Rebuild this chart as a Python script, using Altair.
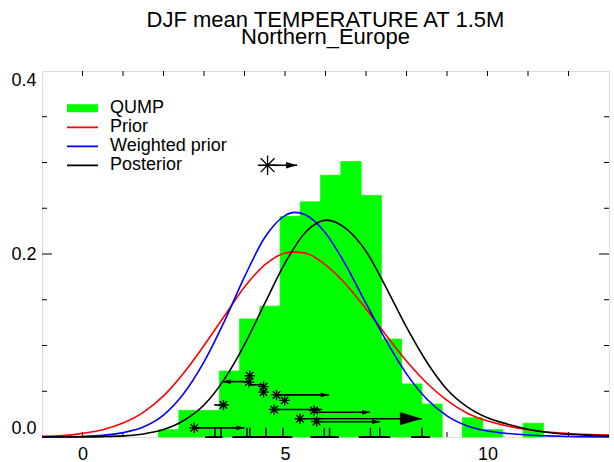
import altair as alt
import pandas as pd

FONT = "Liberation Sans"
W, H = 567, 366

# ---------------- data ----------------
# QUMP histogram (bin edges and densities)
bin_left = [1.88, 2.38, 2.88, 3.38, 3.88, 4.38, 4.88, 5.38, 5.88, 6.38, 6.88, 7.38, 7.88, 8.38, 9.38, 9.88, 10.88]
bin_right = [2.38, 2.88, 3.38, 3.88, 4.38, 4.88, 5.38, 5.88, 6.38, 6.88, 7.38, 7.88, 8.38, 8.88, 9.88, 10.38, 11.38]
bin_height = [0.008, 0.029, 0.029, 0.072, 0.129, 0.143, 0.241, 0.257, 0.286, 0.301, 0.264, 0.107, 0.058, 0.036, 0.021, 0.008, 0.015]

# Prior
prior_x = [-1, -0.5, 0, 0.5, 1, 1.5, 2, 2.5, 3, 3.5, 4, 4.5, 5, 5.2, 5.5, 6, 6.5, 7, 7.5, 8, 8.5, 9, 9.5, 10, 10.5, 11, 11.5, 12, 12.5, 13]
prior_y = [0.0007, 0.0015, 0.004, 0.008, 0.0153, 0.027, 0.045, 0.070, 0.100, 0.132, 0.164, 0.188, 0.201, 0.202, 0.201, 0.188,
           0.167, 0.140, 0.111, 0.083, 0.059, 0.040, 0.026, 0.0175, 0.012, 0.008, 0.0055, 0.0038, 0.0027, 0.002]
# Weighted prior
wprior_x = [-1, -0.5, 0, 0.5, 1, 1.5, 2, 2.5, 3, 3.5, 4, 4.5, 5, 5.24, 5.5, 6, 6.5, 7, 7.5, 8, 8.5, 9, 9.5, 10, 10.5, 11, 11.5, 12, 13]
wprior_y = [0.0, 0.0002, 0.0006, 0.0018, 0.0048, 0.011, 0.024, 0.0475, 0.082, 0.126, 0.175, 0.218, 0.242, 0.2455, 0.243, 0.223,
            0.188, 0.146, 0.105, 0.069, 0.0415, 0.023, 0.012, 0.0065, 0.0038, 0.0022, 0.0012, 0.0006, 0.0001]
# Posterior
post_x = [-1, 0, 0.5, 1, 1.5, 2, 2.5, 3, 3.5, 4, 4.5, 5, 5.5, 6.03, 6.5, 7, 7.5, 8, 8.5, 9, 9.5, 10, 10.5, 11, 11.5, 12, 12.5, 13]
post_y = [0.0, 0.0001, 0.0004, 0.0012, 0.0033, 0.0081, 0.018, 0.035, 0.063, 0.101, 0.146, 0.190, 0.2235, 0.237, 0.228, 0.203,
          0.163, 0.120, 0.082, 0.052, 0.033, 0.021, 0.014, 0.0085, 0.005, 0.003, 0.002, 0.001]

series_names = ["QUMP", "Prior", "Weighted prior", "Posterior"]
series_colors = ["#00ff00", "#ff0000", "#0000ff", "#000000"]

# observation stars
star_x = [2.76, 3.48, 4.13, 4.11, 4.47, 4.47, 4.79, 4.99, 4.73, 5.37, 5.72, 5.78]
star_y = [0.010, 0.035, 0.067, 0.060, 0.055, 0.049, 0.046, 0.040, 0.030, 0.020, 0.029, 0.017]
big_star_x = [4.57]
big_star_y = [0.297]

# arrows (start, end, level)
arrow_x0 = [2.76, 4.79, 4.73, 5.72, 5.78, 5.37, 4.11, 3.48, 4.12, 4.57]
arrow_x1 = [4.00, 6.08, 5.92, 7.10, 7.35, 8.38, 3.46, 3.25, 4.47, 5.30]
arrow_y = [0.010, 0.046, 0.030, 0.027, 0.0167, 0.020, 0.0605, 0.035, 0.057, 0.297]
head_small_x = [4.00, 6.08, 5.92, 7.10, 7.35]
head_small_y = [0.010, 0.046, 0.030, 0.027, 0.0167]
head_big_x = [8.38]
head_big_y = [0.020]
head_left_x = [3.46]
head_left_y = [0.0605]
head_top_x = [5.30]
head_top_y = [0.297]

# rug ticks and bottom segments
rug_x = [3.27, 3.42, 4.06, 4.13, 4.53, 4.95, 5.97, 6.10, 7.11, 7.34, 8.38]
rug_top = [0.010] * len(rug_x)
seg_x0 = [3.03, 3.70, 5.63, 6.82, 8.11]
seg_x1 = [3.46, 5.18, 6.33, 7.60, 8.58]

# axis ticks
x_ticks = [0, 1, 2, 3, 4, 5, 6, 7, 8, 9, 10, 11, 12]
y_minor = [0.05, 0.10, 0.15, 0.25, 0.30, 0.35]
y_major = [0.2]

# ---------------- chart ----------------
xs = alt.Scale(domain=[-1, 13], nice=False, zero=False)
ys = alt.Scale(domain=[0, 0.4], nice=False, zero=False)
xaxis = alt.Axis(values=[0, 5, 10], format="d", title=None, ticks=False, domain=False, grid=False,
                 labelFontSize=18, labelFont=FONT, labelColor="black", labelPadding=8)
yaxis = alt.Axis(values=[0, 0.2, 0.4], format=".1f", title=None, ticks=False, domain=False, grid=False,
                 labelFontSize=18, labelFont=FONT, labelColor="black", labelPadding=6, labelFlush=True,
                 labelFlushOffset=0)


def X(f):
    return alt.X(f, type="quantitative", scale=xs, axis=xaxis)


def Y(f):
    return alt.Y(f, type="quantitative", scale=ys, axis=yaxis)


xt = pd.DataFrame({"t": x_ticks})
ymin = pd.DataFrame({"t": y_minor})
ymaj = pd.DataFrame({"t": y_major})

tick_bottom = alt.Chart(xt).mark_rule(color="black", strokeWidth=1).encode(x=X("t"), y=alt.value(H), y2=alt.value(H - 5))
tick_top = alt.Chart(xt).mark_rule(color="black", strokeWidth=1).encode(x=X("t"), y=alt.value(0), y2=alt.value(5))
tick_l_min = alt.Chart(ymin).mark_rule(color="black", strokeWidth=1).encode(y=Y("t"), x=alt.value(0), x2=alt.value(5))
tick_r_min = alt.Chart(ymin).mark_rule(color="black", strokeWidth=1).encode(y=Y("t"), x=alt.value(W), x2=alt.value(W - 5))
tick_l_maj = alt.Chart(ymaj).mark_rule(color="black", strokeWidth=1).encode(y=Y("t"), x=alt.value(0), x2=alt.value(10))
tick_r_maj = alt.Chart(ymaj).mark_rule(color="black", strokeWidth=1).encode(y=Y("t"), x=alt.value(W), x2=alt.value(W - 10))

hist = alt.Chart(pd.DataFrame({"lo": bin_left, "hi": bin_right, "h": bin_height})).mark_rect(
    color="#00ff00", stroke="#00ff00", strokeWidth=0.8).encode(x=X("lo"), x2="hi", y=Y("h"), y2=alt.datum(0))

curves = pd.concat([
    pd.DataFrame({"x": prior_x, "y": prior_y, "series": "Prior"}),
    pd.DataFrame({"x": wprior_x, "y": wprior_y, "series": "Weighted prior"}),
    pd.DataFrame({"x": post_x, "y": post_y, "series": "Posterior"}),
])

legend = alt.Legend(title=None, orient="none", legendX=21, legendY=28, symbolType="stroke", symbolSize=961,
                    labelFontSize=18, labelFont=FONT, labelColor="black", labelOffset=8, clipHeight=18.7,
                    rowPadding=0, padding=0, labelLimit=400)

lines = alt.Chart(curves).mark_line(interpolate="monotone").encode(
    x=X("x"), y=Y("y"),
    color=alt.Color("series:N", scale=alt.Scale(domain=series_names, range=series_colors), legend=legend),
    strokeWidth=alt.StrokeWidth("series:N", scale=alt.Scale(type="ordinal", domain=series_names, range=[8, 1.6, 1.6, 1.6]),
                                legend=legend),
)

STAR = "M-1,0L1,0M0,-1L0,1M-0.71,-0.71L0.71,0.71M-0.71,0.71L0.71,-0.71"
HEAD_R = "M0,0L-2,-0.6L-2,0.6Z"
HEAD_L = "M0,0L2,-0.6L2,0.6Z"

stars = alt.Chart(pd.DataFrame({"x": star_x, "y": star_y})).mark_point(
    shape=STAR, size=110, filled=False, stroke="black", strokeWidth=1.4, opacity=1).encode(x=X("x"), y=Y("y"))
big_star = alt.Chart(pd.DataFrame({"x": big_star_x, "y": big_star_y})).mark_point(
    shape=STAR, size=380, filled=False, stroke="black", strokeWidth=1.3, opacity=1).encode(x=X("x"), y=Y("y"))

arrows = alt.Chart(pd.DataFrame({"x0": arrow_x0, "x1": arrow_x1, "y": arrow_y})).mark_rule(
    color="black", strokeWidth=1.6).encode(x=X("x0"), x2="x1", y=Y("y"))


def heads(xv, yv, path, size):
    return alt.Chart(pd.DataFrame({"x": xv, "y": yv})).mark_point(
        shape=path, size=size, filled=True, fill="black", strokeWidth=0, opacity=1).encode(x=X("x"), y=Y("y"))


h_small = heads(head_small_x, head_small_y, HEAD_R, 64)
h_big = heads(head_big_x, head_big_y, HEAD_R, 484)
h_left = heads(head_left_x, head_left_y, HEAD_L, 64)
h_top = heads(head_top_x, head_top_y, HEAD_R, 121)

rug = alt.Chart(pd.DataFrame({"x": rug_x, "top": rug_top})).mark_rule(color="black", strokeWidth=1.5).encode(
    x=X("x"), y=Y("top"), y2=alt.datum(0))
segs = alt.Chart(pd.DataFrame({"x0": seg_x0, "x1": seg_x1})).mark_rule(color="black", strokeWidth=2).encode(
    x=X("x0"), x2="x1", y=alt.datum(0))

chart = alt.layer(
    tick_bottom, tick_top, tick_l_min, tick_r_min, tick_l_maj, tick_r_maj,
    hist, lines, arrows, stars, big_star, h_small, h_big, h_left, h_top, rug, segs,
).properties(
    width=W, height=H,
    title=alt.TitleParams(text=["DJF mean TEMPERATURE AT 1.5M", "Northern_Europe"], fontSize=22, font=FONT,
                          fontWeight="normal", color="black", anchor="middle", frame="group", lineHeight=17,
                          offset=22),
    autosize=alt.AutoSizeParams(type="none"),
    padding={"left": 42, "top": 71, "right": 5, "bottom": 25},
).configure_view(stroke="black", strokeWidth=1).configure(font=FONT, background="white")

chart.save("out.html", embed_options={"renderer": "svg", "actions": False})
